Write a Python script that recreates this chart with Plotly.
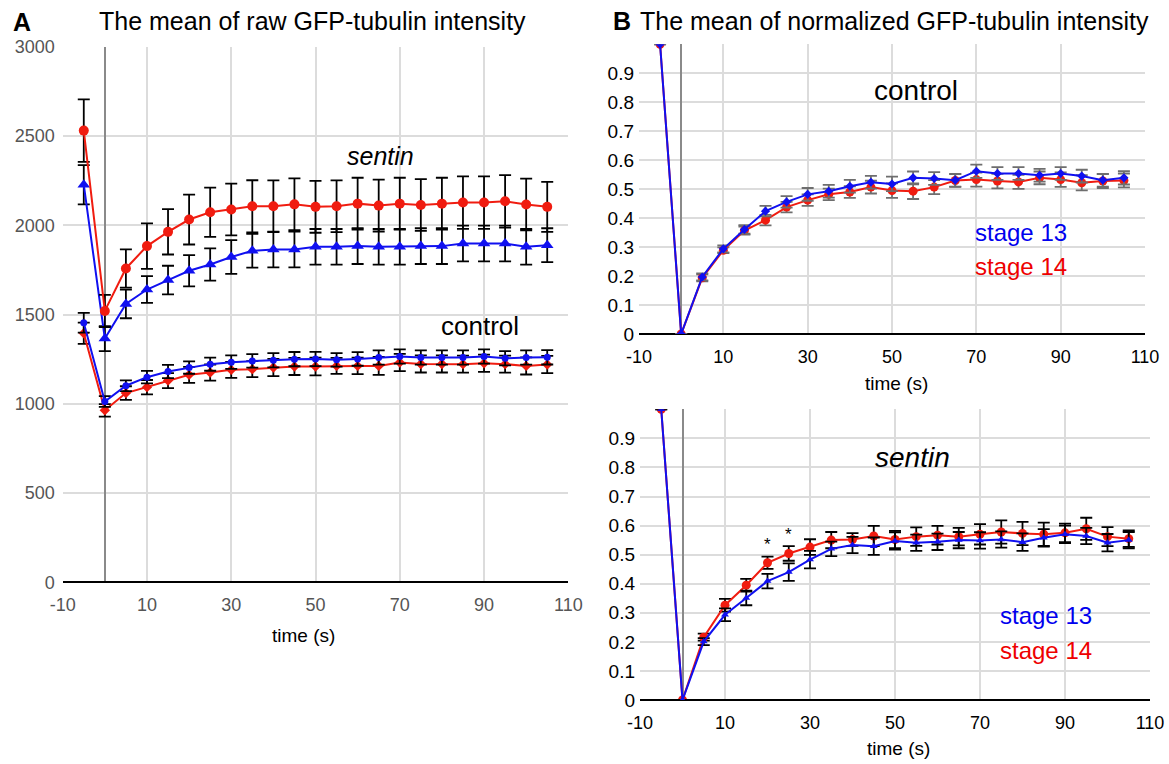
import plotly.graph_objects as go

# time points (s)
time_s = [-5, 0, 5, 10, 15, 20, 25, 30, 35, 40, 45, 50, 55, 60, 65, 70, 75, 80, 85, 90, 95, 100, 105]

# panel A: raw intensity
raw_sentin_st14 = [2530, 1520, 1758, 1883, 1963, 2032, 2073, 2088, 2106, 2106, 2117, 2103, 2106, 2121, 2110,
                   2121, 2113, 2121, 2127, 2127, 2134, 2116, 2103]
raw_sentin_st14_err = [175, 90, 107, 127, 127, 140, 138, 145, 146, 145, 145, 145, 145, 145, 145,
                       145, 145, 145, 147, 147, 147, 145, 140]
raw_sentin_st13 = [2227, 1365, 1559, 1640, 1693, 1745, 1780, 1822, 1857, 1864, 1864, 1879, 1879, 1883, 1879,
                   1879, 1883, 1883, 1898, 1898, 1898, 1879, 1888]
raw_sentin_st13_err = [110, 70, 80, 75, 80, 88, 90, 95, 95, 100, 100, 100, 100, 100, 100,
                       100, 100, 100, 100, 100, 100, 100, 95]
raw_control_st13 = [1454, 1013, 1101, 1149, 1181, 1203, 1222, 1233, 1240, 1244, 1250, 1251, 1246, 1251, 1259,
                    1265, 1259, 1259, 1259, 1265, 1255, 1259, 1260]
raw_control_st13_err = [55, 30, 30, 35, 37, 35, 37, 38, 38, 40, 40, 40, 38, 38, 40,
                        40, 40, 40, 40, 40, 40, 40, 40]
raw_control_st14 = [1395, 963, 1060, 1093, 1130, 1162, 1175, 1190, 1194, 1203, 1209, 1209, 1212, 1212, 1212,
                    1231, 1223, 1223, 1222, 1227, 1222, 1212, 1220]
raw_control_st14_err = [60, 35, 38, 40, 42, 45, 45, 45, 45, 48, 48, 50, 45, 46, 50,
                        48, 48, 48, 48, 48, 48, 48, 48]

# panel B top: normalized control
norm_control_st13 = [1.0, 0, 0.197, 0.294, 0.361, 0.424, 0.456, 0.482, 0.493, 0.510, 0.524, 0.518, 0.539, 0.537,
                     0.531, 0.562, 0.554, 0.554, 0.548, 0.554, 0.545, 0.531, 0.539]
norm_control_st13_err = [0, 0, 0.012, 0.012, 0.015, 0.018, 0.02, 0.022, 0.022, 0.022, 0.022, 0.025, 0.022, 0.022,
                         0.022, 0.023, 0.022, 0.022, 0.022, 0.022, 0.022, 0.022, 0.023]
norm_control_st14 = [1.0, 0, 0.194, 0.289, 0.357, 0.393, 0.438, 0.462, 0.482, 0.490, 0.507, 0.495, 0.493, 0.507,
                     0.530, 0.533, 0.528, 0.525, 0.539, 0.533, 0.522, 0.528, 0.530]
norm_control_st14_err = [0, 0, 0.012, 0.01, 0.014, 0.018, 0.018, 0.02, 0.02, 0.02, 0.022, 0.025, 0.027, 0.024,
                         0.022, 0.024, 0.025, 0.024, 0.022, 0.025, 0.026, 0.024, 0.024]

# panel B bottom: normalized sentin
norm_sentin_st13 = [1.0, 0, 0.201, 0.293, 0.351, 0.409, 0.440, 0.483, 0.520, 0.533, 0.529, 0.547, 0.541, 0.544,
                    0.550, 0.549, 0.552, 0.543, 0.558, 0.570, 0.564, 0.541, 0.550]
norm_sentin_st13_err = [0, 0, 0.012, 0.022, 0.025, 0.025, 0.03, 0.03, 0.025, 0.028, 0.03, 0.03, 0.028, 0.028,
                        0.028, 0.028, 0.028, 0.03, 0.03, 0.03, 0.028, 0.03, 0.028]
norm_sentin_st14 = [1.0, 0, 0.216, 0.326, 0.395, 0.472, 0.504, 0.526, 0.550, 0.552, 0.564, 0.552, 0.562, 0.567,
                    0.562, 0.570, 0.578, 0.573, 0.570, 0.575, 0.589, 0.562, 0.555]
norm_sentin_st14_err = [0, 0, 0.012, 0.022, 0.022, 0.021, 0.025, 0.027, 0.028, 0.022, 0.035, 0.03, 0.032, 0.032,
                        0.03, 0.035, 0.04, 0.04, 0.04, 0.032, 0.038, 0.033, 0.028]

x_ticks = [-10, 10, 30, 50, 70, 90, 110]
x_ticktext = ["-10", "10", "30", "50", "70", "90", "110"]
norm_ticks = [0, 0.1, 0.2, 0.3, 0.4, 0.5, 0.6, 0.7, 0.8, 0.9, 1.0]
norm_ticktext = ["0", "0.1", "0.2", "0.3", "0.4", "0.5", "0.6", "0.7", "0.8", "0.9", ""]

RED = "#f01c10"
BLUE = "#1010f0"
FONT = "Liberation Sans, Arial, sans-serif"
W, H = 1169, 764

fig = go.Figure()


def add_series(x, y, err, color, symbol, size, errcolor, xa, ya, errw=6, errt=1.8):
    fig.add_trace(go.Scatter(
        x=x, y=y, mode="lines+markers", xaxis=xa, yaxis=ya,
        line=dict(color=color, width=2),
        marker=dict(color=color, symbol=symbol, size=size),
        error_y=dict(type="data", array=err, color=errcolor, thickness=errt, width=errw),
        showlegend=False,
    ))


# panel A
add_series(time_s, raw_sentin_st13, raw_sentin_st13_err, BLUE, "triangle-up", 11, "black", "x", "y")
add_series(time_s, raw_sentin_st14, raw_sentin_st14_err, RED, "circle", 10, "black", "x", "y")
add_series(time_s, raw_control_st14, raw_control_st14_err, RED, "diamond", 8, "black", "x", "y")
add_series(time_s, raw_control_st13, raw_control_st13_err, BLUE, "circle", 7, "black", "x", "y")

# panel B top
add_series(time_s, norm_control_st14, norm_control_st14_err, RED, "circle", 9, "#6e6e6e", "x2", "y2")
add_series(time_s, norm_control_st13, norm_control_st13_err, BLUE, "diamond", 7, "#6e6e6e", "x2", "y2")

# panel B bottom
add_series(time_s, norm_sentin_st14, norm_sentin_st14_err, RED, "circle", 9, "black", "x3", "y3")
add_series(time_s, norm_sentin_st13, norm_sentin_st13_err, BLUE, "triangle-up", 7, "black", "x3", "y3")

xcommon = dict(range=[-10, 110], tickvals=x_ticks, ticktext=x_ticktext, showgrid=True,
               gridcolor="#dcdcdc", gridwidth=1.5, zeroline=True, zerolinecolor="#8a8a8a",
               zerolinewidth=1.5, showline=False, ticks="", automargin=False, ticklabelstandoff=10)
ycommon = dict(showgrid=True, gridcolor="#dcdcdc", gridwidth=1.5, zeroline=True,
               zerolinecolor="black", zerolinewidth=2, showline=False, ticks="", automargin=False)

fig.update_layout(
    width=W, height=H,
    margin=dict(l=0, r=0, t=0, b=0),
    paper_bgcolor="white", plot_bgcolor="white",
    font=dict(family=FONT, size=18, color="black"),
    xaxis=dict(domain=[62.7 / W, 568.3 / W], anchor="y", tickfont=dict(color="#555555", size=18), **xcommon),
    yaxis=dict(domain=[1 - 582.3 / H, 1 - 46.7 / H], anchor="x", range=[0, 3000], dtick=500,
               tickfont=dict(color="#555555", size=18), ticklabelstandoff=7, **ycommon),
    xaxis2=dict(domain=[639 / W, 1145 / W], anchor="y2", tickfont=dict(size=18), **xcommon),
    yaxis2=dict(domain=[1 - 334 / H, 1 - 44.3 / H], anchor="x2", range=[0, 1.0],
                tickvals=norm_ticks, ticktext=norm_ticktext, tickfont=dict(size=19),
                ticklabelstandoff=4, **ycommon),
    xaxis3=dict(domain=[640 / W, 1150 / W], anchor="y3", tickfont=dict(size=18), **xcommon),
    yaxis3=dict(domain=[1 - 700 / H, 1 - 409.3 / H], anchor="x3", range=[0, 1.0],
                tickvals=norm_ticks, ticktext=norm_ticktext, tickfont=dict(size=19),
                ticklabelstandoff=4, **ycommon),
)


def paper_text(text, x, y, size, color="black"):
    return dict(text=text, x=x / W, y=1 - y / H, xref="paper", yref="paper", showarrow=False,
                font=dict(size=size, color=color), xanchor="center", yanchor="middle")


def data_text(text, x, y, xa, ya, size, color="black"):
    return dict(text=text, x=x, y=y, xref=xa, yref=ya, showarrow=False,
                font=dict(size=size, color=color), xanchor="center", yanchor="middle")


annotations = [
    paper_text("<b>A</b>", 21.5, 21.5, 25),
    paper_text("The mean of raw GFP-tubulin intensity", 312, 21, 25),
    paper_text("<b>B</b>", 622, 21, 25),
    paper_text("The mean of normalized GFP-tubulin intensity", 894, 21, 25),
    paper_text("time (s)", 303, 635, 19),
    paper_text("time (s)", 896, 383, 19),
    paper_text("time (s)", 898, 748, 19),
    data_text("<i>sentin</i>", 65.5, 2390, "x", "y", 25),
    data_text("control", 89, 1435, "x", "y", 26),
    data_text("control", 55.7, 0.84, "x2", "y2", 28),
    data_text("stage 13", 80.5, 0.351, "x2", "y2", 24, "#0000ee"),
    data_text("stage 14", 80.5, 0.232, "x2", "y2", 24, "#ee0000"),
    data_text("<i>sentin</i>", 54, 0.835, "x3", "y3", 28),
    data_text("stage 13", 85.6, 0.292, "x3", "y3", 24, "#0000ee"),
    data_text("stage 14", 85.6, 0.172, "x3", "y3", 24, "#ee0000"),
    data_text("*", 20, 0.535, "x3", "y3", 17),
    data_text("*", 25, 0.57, "x3", "y3", 17),
]
fig.update_layout(annotations=annotations)

# the page body has a default 8px margin; drop it so the figure fills the window
fig.write_html("out.html", config={"displayModeBar": False},
               post_script="document.body.style.margin='0';document.body.style.overflow='hidden';")
